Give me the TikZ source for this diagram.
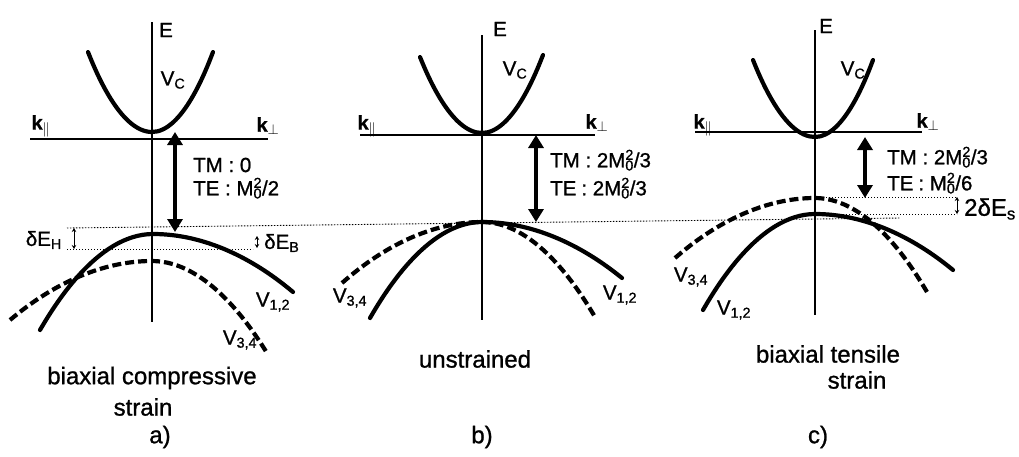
\documentclass[tikz,border=0pt]{standalone}
\usepackage{fontspec}
\setmainfont{Liberation Sans}[FakeBold=1]
\usetikzlibrary{arrows.meta}
\newcommand{\Mnull}{M\rlap{\smash{\textsubscript{0}}}\smash{\textsuperscript{2}}}

\begin{document}
\begin{tikzpicture}[x=1pt,y=-1pt,
  axis/.style={line width=1.3pt},
  band/.style={line width=4.2pt,line cap=round},
  lhband/.style={line width=4.2pt,dash pattern=on 9pt off 4pt},
  level/.style={line width=0.9pt,dash pattern=on 1.4pt off 1.6pt},
  gap/.style={line width=4.5pt,{Triangle[length=13pt,width=15pt]}-{Triangle[length=13pt,width=15pt]}},
  split/.style={line width=0.9pt,{Stealth[length=4pt,width=4.5pt]}-{Stealth[length=4pt,width=4.5pt]}},
  lbl/.style={font=\fontsize{20.5}{24}\selectfont,inner sep=0pt},
  klbl/.style={font=\fontsize{20}{24}\selectfont\bfseries,inner sep=0pt},
  captxt/.style={font=\fontsize{24}{28}\selectfont,inner sep=0pt}]
  \useasboundingbox (0,0) rectangle (1019,456);
  % common zero level of the unstrained valence band
  \draw[level] (67,228) -- (900,218);
  % panel a
  \draw[level] (67,249) -- (253,249);
  \draw[axis] (152,22) -- (152,322);
  \draw[axis] (30,139) -- (268,139);
  \draw[band] (88,52) parabola bend (152,132) (213,52);
  \draw[lhband] (10,320) parabola bend (152,261) (267,353);
  \draw[band] (40,330) parabola bend (153,234) (293,292);
  \coordinate (cbma) at (175,132);
  \coordinate (vbma) at (175,232);
  \draw[gap] (cbma) -- (vbma);
  \coordinate (hta) at (74,228);
  \coordinate (hba) at (74,249);
  \draw[split] (hta) -- (hba);
  \coordinate (bta) at (257,236);
  \coordinate (bba) at (257,248);
  \draw[split] (bta) -- (bba);
  \node[lbl] (ea) at (166,30) {E};
  \node[lbl] (vca) at (173,80) {V\textsubscript{C}};
  \node[klbl] (kpa) at (41,126) {k$_{\parallel}$};
  \node[klbl] (kna) at (268,126) {k$_{\perp}$};
  \node[lbl,anchor=west] (tma) at (193,165) {TM : 0};
  \node[lbl,anchor=west] (tea) at (193,188) {TE : \Mnull/2};
  \node[lbl,anchor=east] (dha) at (62,240) {δE\textsubscript{H}};
  \node[lbl,anchor=west] (dba) at (264,243) {δE\textsubscript{B}};
  \node[lbl] (vha) at (273,302) {V\textsubscript{1,2}};
  \node[lbl] (vla) at (240,340) {V\textsubscript{3,4}};
  \node[captxt] (sa) at (152,378) {biaxial compressive};
  \node[captxt] (sta) at (143,407) {strain};
  % panel b
  \draw[axis] (482,35) -- (482,320);
  \draw[axis] (360,135) -- (595,135);
  \draw[band] (420,57) parabola bend (482,133) (543,55);
  \draw[lhband] (342,283) parabola bend (482,222) (595,317);
  \draw[band] (370,318) parabola bend (482,222) (622,278);
  \coordinate (cbmb) at (536,135);
  \coordinate (vbmb) at (536,222);
  \draw[gap] (cbmb) -- (vbmb);
  \node[lbl] (eb) at (500,29) {E};
  \node[lbl] (vcb) at (515,70) {V\textsubscript{C}};
  \node[klbl] (kpb) at (367,126) {k$_{\parallel}$};
  \node[klbl] (knb) at (597,123) {k$_{\perp}$};
  \node[lbl,anchor=west] (tmb) at (550,160) {TM : 2\Mnull/3};
  \node[lbl,anchor=west] (teb) at (550,188) {TE\hspace{5pt}: 2\Mnull/3};
  \node[lbl] (vlb) at (350,298) {V\textsubscript{3,4}};
  \node[lbl] (vhb) at (620,295) {V\textsubscript{1,2}};
  \node[captxt] (sb) at (475,359) {unstrained};
  % panel c
  \draw[level] (820,197) -- (957,197);
  \draw[level] (837,214) -- (957,214);
  \draw[axis] (815,30) -- (815,315);
  \draw[axis] (695,132) -- (922,132);
  \draw[band] (753,60) parabola bend (815,137) (873,60);
  \draw[lhband] (675,258) parabola bend (815,198) (927,292);
  \draw[band] (703,310) parabola bend (815,214) (953,270);
  \coordinate (cbmc) at (865,137);
  \coordinate (vbmc) at (865,198);
  \draw[gap] (cbmc) -- (vbmc);
  \coordinate (stc) at (957,197);
  \coordinate (sbc) at (957,214);
  \draw[split] (stc) -- (sbc);
  \node[lbl] (ec) at (826,26) {E};
  \node[lbl] (vcc) at (853,70) {V\textsubscript{C}};
  \node[klbl] (kpc) at (703,125) {k$_{\parallel}$};
  \node[klbl] (knc) at (928,122) {k$_{\perp}$};
  \node[lbl,anchor=west] (tmc) at (887,157) {TM : 2\Mnull/3};
  \node[lbl,anchor=west] (tec) at (887,183) {TE\hspace{5pt}: \Mnull/6};
  \node[captxt,anchor=west] (dsc) at (964,209) {2δE\textsubscript{s}};
  \node[lbl] (vlc) at (691,277) {V\textsubscript{3,4}};
  \node[lbl] (vhc) at (734,310) {V\textsubscript{1,2}};
  \node[captxt] (sc) at (828,354) {biaxial tensile};
  \node[captxt] (stc2) at (857,380) {strain};
  % captions
  \foreach \p/\x in {a/160,b/482,c/818} { \node[captxt] (l\p) at (\x,437) {\p)}; }
\end{tikzpicture}
\end{document}
